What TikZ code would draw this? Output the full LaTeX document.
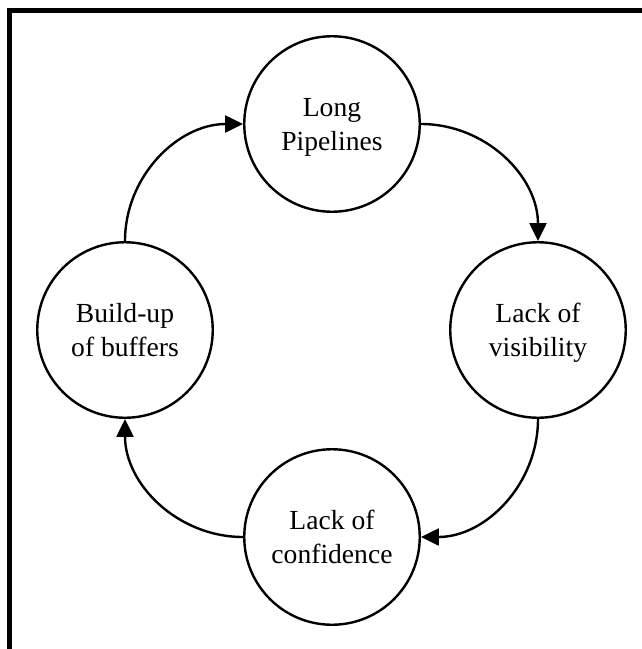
\documentclass[tikz,border=0pt]{standalone}
\usepackage{fontspec}
\setmainfont{Liberation Serif}
\usetikzlibrary{arrows.meta}
\begin{document}
\begin{tikzpicture}[x=1pt,y=1pt,
  state/.style={circle, draw, line width=2.4pt, minimum size=175.5pt, inner sep=0pt,
    align=center, font=\fontsize{27.6}{34}\selectfont, text height=53pt, text depth=0pt},
  flow/.style={line width=2.4pt, -{Triangle[length=18pt,width=17pt]}}]
\useasboundingbox (0,0) rectangle (642,-649);
\fill[white] (0,0) rectangle (642,-649);
\draw[line width=5.5pt] (9.5,-649) -- (9.5,-10.5) -- (642,-10.5);
\node[state] (lp) at (332,-124) {Long\\Pipelines};
\node[state] (lv) at (538,-330) {Lack of\\visibility};
\node[state] (lc) at (332,-537) {Lack of\\confidence};
\node[state] (bb) at (125,-330) {Build-up\\of buffers};
\draw[flow] (lp.east) to[out=0,in=90] (lv.north);
\draw[flow] (lv.south) to[out=-90,in=0] (lc.east);
\draw[flow] (lc.west) to[out=180,in=-90] (bb.south);
\draw[flow] (bb.north) to[out=90,in=180] (lp.west);
\end{tikzpicture}
\end{document}
